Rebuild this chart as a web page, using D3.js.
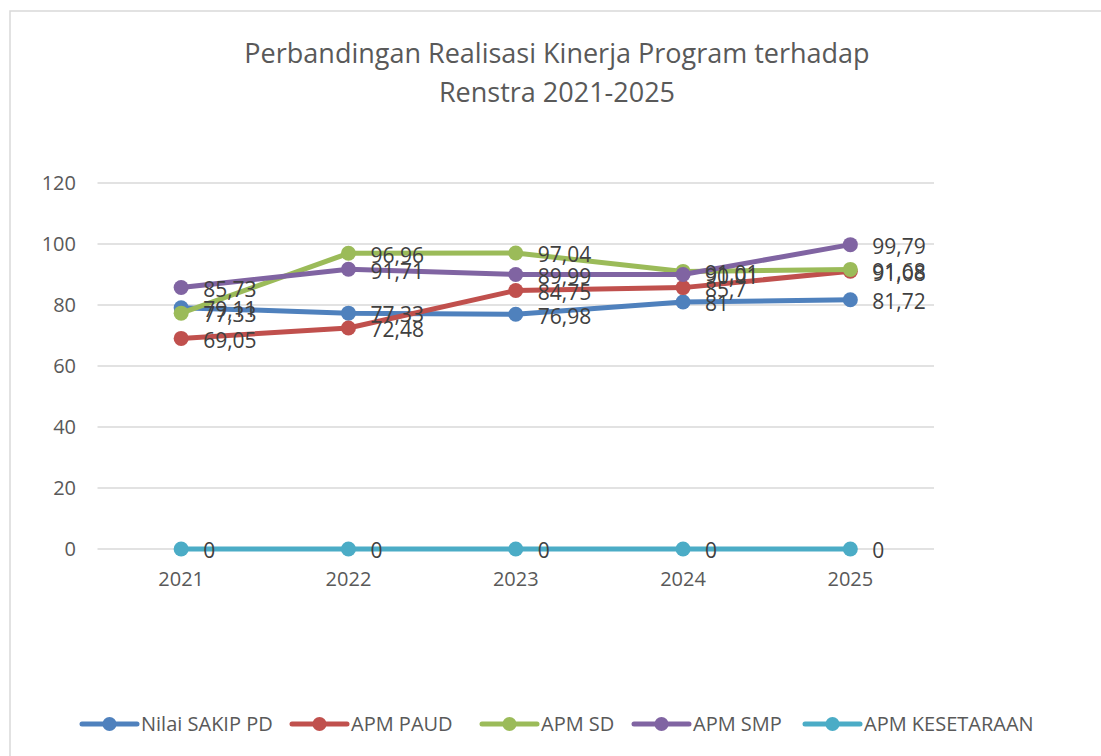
<!DOCTYPE html>
<html>
<head>
<meta charset="utf-8">
<script src="https://cdn.jsdelivr.net/npm/d3@7"></script>
<style>
  body { margin: 0; background: #fff; }
  svg text { font-family: "Open Sans", sans-serif; fill: #595959; }
</style>
</head>
<body>
<svg id="chart" width="1101" height="756"></svg>
<script>
// data
const years = ["2021", "2022", "2023", "2024", "2025"];
const seriesNames = ["Nilai SAKIP PD", "APM PAUD", "APM SD", "APM SMP", "APM KESETARAAN"];
const sakip = [79.11, 77.33, 76.98, 81, 81.72];
const paud = [69.05, 72.48, 84.75, 85.7, 91.08];
const sd = [77.33, 96.96, 97.04, 91.01, 91.68];
const smp = [85.73, 91.71, 89.99, 90.01, 99.79];
const kesetaraan = [0, 0, 0, 0, 0];
const yTicks = [0, 20, 40, 60, 80, 100, 120];
const colors = ["#4F81BD", "#C0504D", "#9BBB59", "#8064A2", "#4BACC6"];

const allSeries = [sakip, paud, sd, smp, kesetaraan];

const svg = d3.select("#chart");

// frame of the chart area
svg.append("rect")
  .attr("x", 10).attr("y", 11)
  .attr("width", 1200).attr("height", 900)
  .attr("fill", "none")
  .attr("stroke", "#d9d9d9")
  .attr("stroke-width", 1.5);

// title
const title = svg.append("text")
  .attr("text-anchor", "middle")
  .style("font-size", "27px");
title.append("tspan").attr("x", 557).attr("y", 63).text("Perbandingan Realisasi Kinerja Program terhadap");
title.append("tspan").attr("x", 557).attr("y", 102).text("Renstra 2021-2025");

const x = d3.scaleBand().domain(years).range([97.5, 934]);
const y = d3.scaleLinear().domain([0, 120]).range([549, 183]);

// grid
svg.append("g")
  .selectAll("line")
  .data(yTicks)
  .enter().append("line")
  .attr("x1", 97.5).attr("x2", 934)
  .attr("y1", d => y(d)).attr("y2", d => y(d))
  .attr("stroke", "#d9d9d9")
  .attr("stroke-width", 1.5);

// y axis labels
const yAxis = svg.append("g")
  .attr("transform", "translate(80,0)")
  .call(d3.axisLeft(y).tickValues(yTicks).tickSize(0).tickPadding(4));
yAxis.select(".domain").remove();
yAxis.selectAll("text")
  .style("font-size", "20px")
  .style("font-family", "\"Open Sans\", sans-serif")
  .attr("fill", "#595959");

// x axis labels
const xAxis = svg.append("g")
  .attr("transform", "translate(0,568)")
  .call(d3.axisBottom(x).tickSize(0).tickPadding(4));
xAxis.select(".domain").remove();
xAxis.selectAll("text")
  .style("font-size", "20px")
  .style("font-family", "\"Open Sans\", sans-serif")
  .attr("fill", "#595959");

const cx = d => x(d) + x.bandwidth() / 2;
const line = d3.line()
  .x((d, i) => cx(years[i]))
  .y(d => y(d));

// lines and markers
allSeries.forEach((vals, si) => {
  const g = svg.append("g");
  g.append("path")
    .datum(vals)
    .attr("d", line)
    .attr("fill", "none")
    .attr("stroke", colors[si])
    .attr("stroke-width", 5)
    .attr("stroke-linecap", "round")
    .attr("stroke-linejoin", "round");
  g.selectAll("circle")
    .data(vals)
    .enter().append("circle")
    .attr("cx", (d, i) => cx(years[i]))
    .attr("cy", d => y(d))
    .attr("r", 7.5)
    .attr("fill", colors[si]);
});

// data labels
const fmt = v => String(v).replace(".", ",");
allSeries.forEach((vals, si) => {
  svg.append("g")
    .selectAll("text")
    .data(vals)
    .enter().append("text")
    .attr("x", (d, i) => cx(years[i]) + 22)
    .attr("y", d => y(d) + 2)
    .attr("dy", "0.35em")
    .style("font-size", "21px")
    .style("fill", "#404040")
    .text(d => fmt(d));
});

// legend
const legendX = [82, 292, 482, 634, 805];
const legend = svg.append("g").attr("transform", "translate(0,724)");
seriesNames.forEach((name, i) => {
  const lg = legend.append("g").attr("transform", "translate(" + legendX[i] + ",0)");
  lg.append("line")
    .attr("x1", 0).attr("x2", 55)
    .attr("y1", 0).attr("y2", 0)
    .attr("stroke", colors[i])
    .attr("stroke-width", 5)
    .attr("stroke-linecap", "round");
  lg.append("circle")
    .attr("cx", 27.5).attr("cy", 0).attr("r", 7)
    .attr("fill", colors[i]);
  lg.append("text")
    .attr("x", 59).attr("y", 0)
    .attr("dy", "0.35em")
    .style("font-size", "20px")
    .text(name);
});
</script>
</body>
</html>
